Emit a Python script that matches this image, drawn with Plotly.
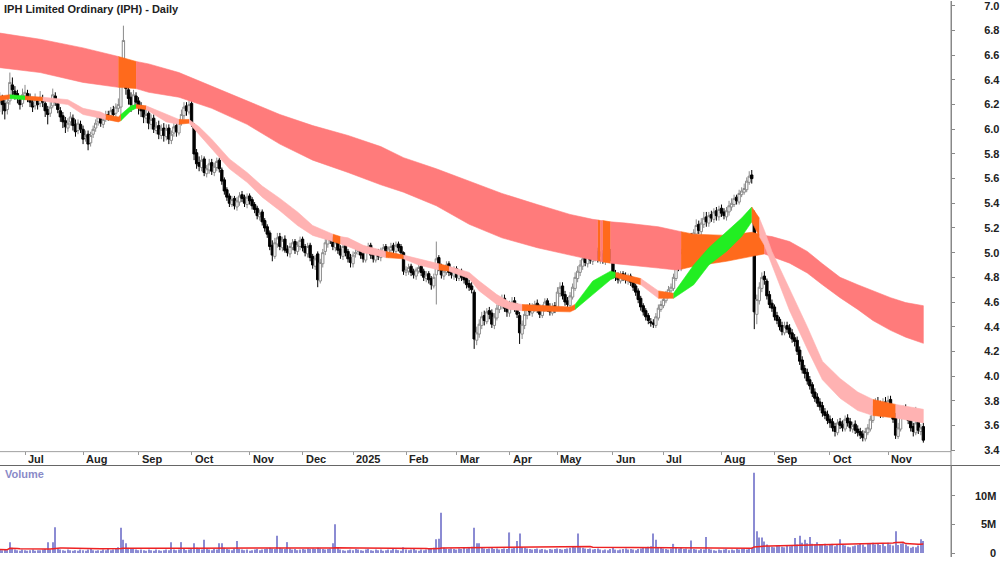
import numpy as np
import pandas as pd
import plotly.graph_objects as go

# ---------------- data ----------------
holidays = ["2024-12-25", "2024-12-26", "2025-01-01", "2025-01-27",
            "2025-04-18", "2025-04-21", "2025-04-25", "2025-06-09"]
first_day, last_day = "2024-06-17", "2025-11-21"

close = [6.25, 6.20, 6.15, 6.22, 6.38, 6.32, 6.28, 6.25, 6.20, 6.28,
         6.30, 6.26, 6.22, 6.18, 6.24, 6.20, 6.26, 6.22, 6.15, 6.12,
         6.18, 6.28, 6.22, 6.16, 6.10, 6.06, 6.02, 6.05, 6.10, 6.03,
         5.98, 6.05, 6.00, 5.92, 5.95, 5.88, 5.95, 6.00, 6.05, 6.10,
         6.05, 6.08, 6.12, 6.10, 6.15, 6.12, 6.18, 6.20, 6.48, 6.72,
         6.33, 6.25, 6.20, 6.28, 6.22, 6.18, 6.15, 6.10, 6.12, 6.05,
         6.08, 6.00, 6.02, 5.96, 6.00, 5.95, 6.00, 5.92, 5.96, 6.02,
         5.98, 6.05, 6.12, 6.18, 6.15, 6.20, 6.05, 5.80, 5.72, 5.70,
         5.75, 5.65, 5.68, 5.72, 5.66, 5.70, 5.74, 5.68, 5.58, 5.50,
         5.45, 5.40, 5.43, 5.38, 5.42, 5.46, 5.44, 5.40, 5.45, 5.42,
         5.38, 5.35, 5.30, 5.32, 5.25, 5.20, 5.15, 5.05, 4.98, 5.08,
         5.12, 5.05, 5.10, 5.02, 5.00, 5.05, 5.08, 5.02, 5.06, 5.10,
         5.04, 5.00, 5.05, 4.96, 4.90, 4.95, 4.78, 4.92, 5.00, 5.08,
         5.12, 5.10, 5.05, 5.08, 5.02, 4.98, 5.05, 5.00, 4.95, 4.92,
         4.98, 5.00, 5.03, 4.98, 4.95, 5.02, 5.05, 4.98, 4.95, 5.00,
         4.97, 5.02, 5.04, 5.00, 5.03, 5.05, 5.02, 5.06, 5.04, 5.00,
         4.85, 4.86, 4.88, 4.84, 4.82, 4.86, 4.88, 4.84, 4.80, 4.82,
         4.78, 4.74, 4.80, 4.95, 4.88, 4.82, 4.85, 4.90, 4.84, 4.82,
         4.86, 4.80, 4.84, 4.80, 4.78, 4.74, 4.72, 4.70, 4.30, 4.35,
         4.42, 4.48, 4.45, 4.52, 4.50, 4.42, 4.48, 4.55, 4.58, 4.62,
         4.55, 4.52, 4.58, 4.60, 4.55, 4.50, 4.35, 4.42, 4.50, 4.55,
         4.52, 4.56, 4.58, 4.54, 4.50, 4.55, 4.60, 4.55, 4.52, 4.56,
         4.54, 4.68, 4.72, 4.65, 4.60, 4.58, 4.65, 4.72, 4.80, 4.85,
         4.90, 4.95, 4.92, 4.98, 4.94, 4.97, 5.00, 4.95, 4.98, 4.94,
         4.97, 5.00, 4.96, 4.82, 4.80, 4.78, 4.82, 4.80, 4.78, 4.80,
         4.76, 4.72, 4.68, 4.62, 4.56, 4.52, 4.48, 4.45, 4.43, 4.42,
         4.48, 4.55, 4.58, 4.62, 4.66, 4.70, 4.72, 4.80, 4.92, 4.88,
         5.00, 5.08, 5.05, 5.12, 5.10, 5.16, 5.22, 5.18, 5.24, 5.28,
         5.25, 5.30, 5.28, 5.33, 5.30, 5.35, 5.32, 5.30, 5.34, 5.38,
         5.40, 5.44, 5.42, 5.48, 5.50, 5.52, 5.58, 5.62, 5.60, 4.52,
         4.62, 4.72, 4.80, 4.78, 4.65, 4.58, 4.55, 4.48, 4.45, 4.40,
         4.36, 4.40, 4.38, 4.34, 4.30, 4.28, 4.20, 4.12, 4.05, 4.02,
         3.96, 3.92, 3.86, 3.82, 3.78, 3.75, 3.70, 3.68, 3.64, 3.62,
         3.58, 3.55, 3.62, 3.60, 3.58, 3.65, 3.62, 3.58, 3.60, 3.56,
         3.54, 3.52, 3.50, 3.55, 3.58, 3.65, 3.72, 3.78, 3.75, 3.70,
         3.78, 3.74, 3.80, 3.72, 3.65, 3.52, 3.58, 3.68, 3.72, 3.70,
         3.64, 3.58, 3.55, 3.62, 3.56, 3.58, 3.48]

open_ = [6.22, 6.24, 6.21, 6.16, 6.23, 6.36, 6.31, 6.29, 6.24, 6.21,
         6.27, 6.29, 6.25, 6.22, 6.19, 6.23, 6.21, 6.25, 6.21, 6.16,
         6.13, 6.19, 6.27, 6.21, 6.15, 6.11, 6.07, 6.01, 6.06, 6.09,
         6.04, 5.99, 6.04, 6.00, 5.93, 5.96, 5.89, 5.96, 6.01, 6.06,
         6.09, 6.04, 6.09, 6.12, 6.11, 6.16, 6.13, 6.17, 6.18, 6.52,
         6.50, 6.32, 6.26, 6.19, 6.27, 6.23, 6.19, 6.16, 6.09, 6.13,
         6.04, 6.09, 5.99, 6.03, 5.95, 6.01, 5.94, 6.01, 5.91, 5.97,
         6.03, 5.97, 6.06, 6.11, 6.19, 6.14, 6.21, 6.03, 5.81, 5.73,
         5.69, 5.76, 5.64, 5.67, 5.73, 5.65, 5.69, 5.75, 5.67, 5.59,
         5.51, 5.46, 5.39, 5.44, 5.37, 5.41, 5.47, 5.45, 5.39, 5.46,
         5.43, 5.39, 5.36, 5.29, 5.33, 5.26, 5.21, 5.16, 5.06, 4.97,
         5.07, 5.13, 5.04, 5.11, 5.03, 4.99, 5.04, 5.09, 5.01, 5.05,
         5.11, 5.05, 4.99, 5.06, 4.97, 4.89, 4.99, 4.77, 4.91, 5.01,
         5.07, 5.13, 5.11, 5.04, 5.09, 5.03, 4.97, 5.06, 5.01, 4.96,
         4.91, 4.99, 5.01, 5.04, 4.99, 4.94, 5.03, 5.06, 4.99, 4.94,
         5.01, 4.96, 5.01, 5.05, 4.99, 5.02, 5.06, 5.01, 5.07, 5.05,
         5.00, 4.84, 4.85, 4.89, 4.85, 4.81, 4.85, 4.89, 4.85, 4.79,
         4.83, 4.79, 4.73, 4.82, 4.96, 4.89, 4.81, 4.84, 4.91, 4.85,
         4.81, 4.87, 4.79, 4.85, 4.81, 4.79, 4.75, 4.73, 4.68, 4.29,
         4.34, 4.41, 4.49, 4.44, 4.53, 4.51, 4.41, 4.47, 4.54, 4.57,
         4.63, 4.56, 4.51, 4.57, 4.61, 4.56, 4.49, 4.34, 4.41, 4.49,
         4.56, 4.51, 4.55, 4.59, 4.55, 4.49, 4.54, 4.61, 4.56, 4.51,
         4.57, 4.55, 4.67, 4.73, 4.66, 4.61, 4.57, 4.64, 4.71, 4.79,
         4.84, 4.89, 4.96, 4.91, 4.99, 4.93, 4.96, 5.01, 4.94, 4.99,
         4.93, 4.96, 5.01, 4.96, 4.83, 4.81, 4.77, 4.83, 4.81, 4.77,
         4.81, 4.77, 4.73, 4.69, 4.63, 4.57, 4.53, 4.49, 4.44, 4.43,
         4.41, 4.47, 4.54, 4.57, 4.61, 4.65, 4.69, 4.71, 4.79, 4.93,
         4.87, 4.99, 5.09, 5.04, 5.13, 5.09, 5.15, 5.23, 5.17, 5.23,
         5.29, 5.24, 5.31, 5.27, 5.34, 5.29, 5.36, 5.33, 5.29, 5.33,
         5.37, 5.39, 5.45, 5.41, 5.47, 5.49, 5.51, 5.57, 5.63, 5.32,
         4.50, 4.61, 4.71, 4.81, 4.77, 4.66, 4.59, 4.56, 4.49, 4.46,
         4.41, 4.35, 4.41, 4.39, 4.35, 4.31, 4.29, 4.21, 4.13, 4.06,
         4.03, 3.97, 3.93, 3.87, 3.83, 3.79, 3.76, 3.71, 3.69, 3.65,
         3.63, 3.59, 3.54, 3.63, 3.61, 3.57, 3.66, 3.63, 3.57, 3.61,
         3.57, 3.55, 3.53, 3.49, 3.54, 3.57, 3.64, 3.71, 3.79, 3.76,
         3.69, 3.79, 3.73, 3.81, 3.73, 3.66, 3.51, 3.57, 3.69, 3.73,
         3.71, 3.65, 3.59, 3.54, 3.63, 3.55, 3.59]

high = [6.30, 6.28, 6.24, 6.26, 6.46, 6.42, 6.35, 6.32, 6.27, 6.33,
        6.36, 6.32, 6.29, 6.25, 6.29, 6.26, 6.31, 6.28, 6.24, 6.19,
        6.22, 6.33, 6.30, 6.24, 6.18, 6.14, 6.10, 6.09, 6.14, 6.12,
        6.08, 6.08, 6.07, 6.03, 5.99, 5.99, 5.98, 6.03, 6.08, 6.13,
        6.12, 6.11, 6.15, 6.15, 6.18, 6.19, 6.21, 6.25, 6.58, 6.84,
        6.56, 6.36, 6.30, 6.32, 6.30, 6.26, 6.22, 6.19, 6.16, 6.16,
        6.12, 6.12, 6.06, 6.07, 6.04, 6.05, 6.04, 6.04, 5.99, 6.06,
        6.06, 6.08, 6.16, 6.22, 6.22, 6.24, 6.23, 6.05, 5.84, 5.78,
        5.79, 5.78, 5.71, 5.76, 5.76, 5.73, 5.77, 5.77, 5.69, 5.61,
        5.53, 5.48, 5.46, 5.46, 5.45, 5.49, 5.50, 5.47, 5.48, 5.48,
        5.45, 5.41, 5.38, 5.35, 5.35, 5.28, 5.23, 5.18, 5.10, 5.12,
        5.16, 5.16, 5.13, 5.14, 5.06, 5.08, 5.11, 5.11, 5.09, 5.13,
        5.13, 5.07, 5.08, 5.08, 4.99, 4.98, 5.01, 4.95, 5.03, 5.11,
        5.15, 5.15, 5.13, 5.11, 5.11, 5.06, 5.08, 5.08, 5.03, 4.99,
        5.01, 5.03, 5.06, 5.06, 5.01, 5.04, 5.08, 5.08, 5.01, 5.03,
        5.03, 5.04, 5.07, 5.07, 5.05, 5.08, 5.08, 5.09, 5.09, 5.07,
        5.01, 4.89, 4.91, 4.91, 4.87, 4.88, 4.91, 4.91, 4.87, 4.85,
        4.85, 4.81, 4.83, 5.09, 4.98, 4.91, 4.88, 4.93, 4.93, 4.88,
        4.89, 4.89, 4.86, 4.87, 4.84, 4.82, 4.78, 4.76, 4.70, 4.40,
        4.46, 4.52, 4.53, 4.55, 4.56, 4.54, 4.51, 4.58, 4.61, 4.66,
        4.66, 4.59, 4.61, 4.64, 4.64, 4.59, 4.52, 4.45, 4.53, 4.58,
        4.59, 4.59, 4.61, 4.62, 4.58, 4.58, 4.63, 4.63, 4.59, 4.59,
        4.60, 4.72, 4.76, 4.76, 4.69, 4.64, 4.68, 4.75, 4.84, 4.89,
        4.94, 4.99, 4.99, 5.02, 5.02, 5.00, 5.04, 5.04, 5.01, 5.02,
        5.00, 5.03, 5.03, 4.98, 4.86, 4.84, 4.85, 4.85, 4.84, 4.83,
        4.83, 4.79, 4.75, 4.71, 4.65, 4.59, 4.55, 4.51, 4.47, 4.46,
        4.51, 4.58, 4.61, 4.65, 4.69, 4.73, 4.75, 4.83, 4.96, 4.97,
        5.03, 5.12, 5.13, 5.15, 5.16, 5.19, 5.27, 5.26, 5.28, 5.33,
        5.33, 5.33, 5.34, 5.36, 5.37, 5.38, 5.39, 5.36, 5.37, 5.42,
        5.44, 5.47, 5.47, 5.51, 5.53, 5.56, 5.61, 5.66, 5.67, 5.34,
        4.66, 4.76, 4.84, 4.85, 4.79, 4.69, 4.62, 4.58, 4.52, 4.48,
        4.44, 4.44, 4.44, 4.42, 4.38, 4.34, 4.32, 4.24, 4.16, 4.09,
        4.06, 4.00, 3.95, 3.90, 3.86, 3.82, 3.79, 3.74, 3.72, 3.68,
        3.66, 3.62, 3.65, 3.66, 3.64, 3.68, 3.69, 3.66, 3.63, 3.64,
        3.60, 3.58, 3.56, 3.58, 3.61, 3.68, 3.76, 3.82, 3.83, 3.80,
        3.82, 3.83, 3.84, 3.84, 3.76, 3.70, 3.62, 3.71, 3.76, 3.77,
        3.74, 3.68, 3.62, 3.75, 3.66, 3.61, 3.62]

low = [6.14, 6.12, 6.08, 6.12, 6.20, 6.27, 6.24, 6.21, 6.16, 6.18,
       6.24, 6.22, 6.18, 6.14, 6.16, 6.16, 6.18, 6.18, 6.10, 6.04,
       6.10, 6.17, 6.19, 6.13, 6.06, 6.01, 5.97, 5.98, 6.03, 5.99,
       5.94, 5.96, 5.97, 5.88, 5.90, 5.83, 5.86, 5.93, 5.98, 6.03,
       6.02, 6.01, 6.06, 6.07, 6.09, 6.09, 6.10, 6.14, 6.10, 6.48,
       6.28, 6.20, 6.14, 6.16, 6.18, 6.12, 6.10, 6.05, 6.05, 6.00,
       6.00, 5.97, 5.96, 5.92, 5.92, 5.90, 5.91, 5.88, 5.88, 5.94,
       5.94, 5.95, 6.03, 6.08, 6.11, 6.12, 6.02, 5.75, 5.68, 5.66,
       5.66, 5.62, 5.61, 5.64, 5.63, 5.62, 5.66, 5.65, 5.55, 5.47,
       5.42, 5.37, 5.37, 5.35, 5.34, 5.38, 5.41, 5.37, 5.36, 5.39,
       5.35, 5.32, 5.27, 5.26, 5.22, 5.17, 5.12, 5.02, 4.93, 4.95,
       5.04, 5.02, 5.01, 5.00, 4.97, 4.96, 5.02, 4.99, 4.98, 5.02,
       5.01, 4.97, 4.96, 4.93, 4.87, 4.86, 4.72, 4.75, 4.88, 4.98,
       5.04, 5.07, 5.02, 5.01, 4.99, 4.95, 4.94, 4.97, 4.92, 4.88,
       4.88, 4.96, 4.98, 4.95, 4.92, 4.92, 5.00, 4.95, 4.92, 4.92,
       4.94, 4.93, 4.98, 4.97, 4.96, 5.00, 4.99, 4.98, 5.01, 4.97,
       4.82, 4.81, 4.82, 4.81, 4.79, 4.78, 4.83, 4.81, 4.77, 4.76,
       4.75, 4.70, 4.71, 4.58, 4.85, 4.79, 4.78, 4.82, 4.81, 4.79,
       4.78, 4.77, 4.77, 4.77, 4.75, 4.71, 4.69, 4.67, 4.22, 4.25,
       4.31, 4.38, 4.41, 4.42, 4.46, 4.39, 4.38, 4.45, 4.51, 4.54,
       4.52, 4.48, 4.48, 4.54, 4.52, 4.47, 4.26, 4.30, 4.38, 4.46,
       4.49, 4.48, 4.52, 4.51, 4.47, 4.47, 4.52, 4.52, 4.49, 4.49,
       4.51, 4.53, 4.64, 4.62, 4.57, 4.55, 4.55, 4.62, 4.69, 4.76,
       4.81, 4.86, 4.89, 4.88, 4.91, 4.90, 4.93, 4.92, 4.91, 4.91,
       4.90, 4.93, 4.93, 4.79, 4.77, 4.75, 4.75, 4.77, 4.75, 4.74,
       4.73, 4.69, 4.65, 4.59, 4.53, 4.49, 4.45, 4.42, 4.40, 4.39,
       4.39, 4.45, 4.52, 4.55, 4.59, 4.63, 4.67, 4.69, 4.77, 4.85,
       4.85, 4.96, 5.02, 5.01, 5.07, 5.06, 5.12, 5.15, 5.14, 5.20,
       5.21, 5.21, 5.25, 5.24, 5.26, 5.26, 5.29, 5.27, 5.26, 5.30,
       5.34, 5.37, 5.39, 5.39, 5.45, 5.47, 5.49, 5.55, 5.56, 4.38,
       4.42, 4.58, 4.68, 4.74, 4.62, 4.55, 4.52, 4.45, 4.42, 4.37,
       4.33, 4.33, 4.35, 4.31, 4.27, 4.24, 4.17, 4.09, 4.02, 3.98,
       3.93, 3.89, 3.83, 3.79, 3.75, 3.72, 3.67, 3.65, 3.61, 3.58,
       3.55, 3.51, 3.52, 3.57, 3.55, 3.55, 3.59, 3.55, 3.54, 3.53,
       3.51, 3.49, 3.47, 3.47, 3.52, 3.55, 3.62, 3.68, 3.72, 3.66,
       3.66, 3.71, 3.70, 3.69, 3.62, 3.49, 3.49, 3.55, 3.66, 3.66,
       3.61, 3.55, 3.51, 3.52, 3.53, 3.52, 3.46]

volume_m = [0.6, 0.5, 0.7, 0.5, 1.9, 0.9, 0.6, 0.5, 0.4, 0.6,
            0.5, 0.4, 0.5, 0.6, 0.4, 0.5, 0.5, 0.6, 0.7, 1.9,
            0.6, 1.9, 4.5, 0.8, 0.6, 0.5, 0.4, 0.6, 0.5, 0.4,
            0.5, 0.4, 0.6, 0.5, 0.4, 0.6, 0.7, 0.5, 0.4, 0.5,
            0.4, 0.6, 0.5, 0.7, 0.5, 0.6, 0.8, 1.0, 4.4, 2.3,
            1.7, 0.9, 0.8, 0.7, 0.6, 0.5, 0.6, 0.5, 0.4, 0.6,
            0.5, 0.4, 0.6, 0.5, 0.4, 0.5, 0.6, 0.5, 1.9, 0.6,
            0.5, 0.6, 1.9, 0.7, 0.5, 0.6, 0.8, 1.7, 0.9, 0.7,
            0.6, 2.3, 0.8, 0.6, 0.5, 0.7, 0.6, 1.7, 1.7, 0.9,
            0.7, 0.6, 0.5, 0.8, 2.1, 0.7, 0.6, 0.5, 0.6, 0.4,
            0.5, 0.6, 0.7, 0.5, 0.6, 0.7, 0.8, 0.9, 0.8, 0.7,
            3.0, 0.9, 0.8, 0.7, 1.9, 0.8, 0.6, 0.7, 0.5, 0.6,
            0.7, 0.6, 0.8, 0.7, 0.8, 0.7, 0.9, 0.8, 0.7, 0.6,
            0.7, 0.8, 1.7, 5.0, 0.9, 0.6, 0.5, 0.4, 0.5, 0.6,
            0.5, 0.7, 0.6, 0.5, 0.4, 0.6, 0.7, 0.5, 0.4, 0.6,
            0.5, 0.6, 0.4, 0.5, 0.6, 0.5, 0.7, 0.6, 0.5, 0.4,
            1.0, 0.6, 0.5, 0.6, 0.7, 0.5, 0.4, 0.6, 0.5, 0.6,
            0.7, 0.8, 0.9, 2.4, 2.5, 7.0, 0.9, 0.8, 0.7, 0.8,
            0.7, 0.6, 0.8, 0.7, 0.9, 0.8, 1.0, 1.1, 4.4, 1.7,
            1.7, 0.9, 0.8, 0.7, 0.8, 0.9, 0.7, 0.8, 0.6, 0.7,
            0.8, 0.7, 3.6, 0.8, 0.9, 2.1, 3.4, 1.0, 0.9, 0.8,
            0.7, 0.6, 0.7, 0.8, 0.6, 0.7, 0.6, 0.5, 0.7, 0.6,
            0.7, 0.8, 0.7, 0.6, 0.7, 0.8, 0.9, 1.1, 1.0, 3.4,
            1.0, 0.9, 0.8, 0.7, 0.8, 0.6, 0.7, 0.8, 0.6, 0.5,
            0.6, 0.5, 0.7, 0.9, 0.6, 0.5, 0.6, 0.7, 0.8, 0.6,
            0.7, 0.6, 0.5, 0.7, 0.8, 0.9, 1.0, 1.1, 1.2, 3.4,
            2.3, 1.0, 0.9, 0.8, 0.7, 0.6, 0.8, 1.6, 0.9, 0.8,
            0.9, 0.7, 0.8, 0.6, 2.2, 0.7, 0.6, 0.5, 0.7, 0.6,
            2.8, 0.7, 0.6, 0.5, 0.4, 0.6, 0.5, 0.6, 0.7, 0.5,
            0.6, 0.5, 0.7, 0.6, 0.7, 0.8, 0.6, 0.7, 0.9, 14.0,
            3.8, 2.7, 2.7, 2.0, 1.5, 1.2, 1.1, 1.0, 1.3, 1.2,
            1.1, 1.0, 1.4, 1.2, 1.3, 2.6, 1.5, 3.0, 1.8, 2.3,
            1.7, 2.8, 1.6, 1.5, 1.9, 1.4, 1.5, 1.6, 1.3, 1.4,
            1.6, 1.2, 1.5, 2.4, 1.4, 1.3, 1.1, 1.0, 1.2, 1.3,
            1.4, 1.6, 1.5, 1.1, 1.7, 1.6, 1.8, 1.5, 1.7, 1.4,
            1.6, 1.2, 1.8, 1.5, 1.3, 3.8, 1.4, 1.6, 1.7, 1.5,
            1.2, 0.9, 1.1, 1.0, 1.3, 2.4, 2.1]

# long-term moving-average band (upper / lower edge) and its state
lb_dates = ["2024-06-17", "2024-07-09", "2024-08-01", "2024-08-21", "2024-08-30",
            "2024-09-06", "2024-09-24", "2024-10-11", "2024-10-31", "2024-11-19",
            "2024-12-06", "2024-12-30", "2025-01-17", "2025-01-31", "2025-02-19",
            "2025-03-10", "2025-03-27", "2025-04-16", "2025-05-08", "2025-05-21",
            "2025-05-23", "2025-05-26", "2025-05-27", "2025-05-30", "2025-06-10",
            "2025-06-27", "2025-07-08", "2025-07-10", "2025-07-17", "2025-08-05",
            "2025-08-19", "2025-08-26", "2025-08-29", "2025-09-09", "2025-09-18",
            "2025-09-26", "2025-10-07", "2025-10-16", "2025-10-24", "2025-11-04",
            "2025-11-12", "2025-11-21"]
lb_hi = [6.78, 6.73, 6.66, 6.59, 6.55, 6.53, 6.46, 6.35, 6.23, 6.12,
         6.03, 5.95, 5.86, 5.77, 5.68, 5.58, 5.48, 5.39, 5.31, 5.27,
         5.265, 5.26, 5.26, 5.25, 5.24, 5.21, 5.18, 5.17, 5.15, 5.14,
         5.165, 5.14, 5.13, 5.09, 5.01, 4.91, 4.80, 4.74, 4.69, 4.635,
         4.595, 4.57]
lb_lo = [6.50, 6.46, 6.38, 6.34, 6.33, 6.30, 6.26, 6.17, 6.04, 5.88,
         5.75, 5.65, 5.55, 5.49, 5.38, 5.23, 5.12, 5.04, 4.98, 4.94,
         4.935, 4.93, 4.925, 4.915, 4.90, 4.875, 4.86, 4.865, 4.89, 4.93,
         4.97, 4.99, 4.97, 4.915, 4.835, 4.74, 4.635, 4.54, 4.45, 4.37,
         4.315, 4.265]
lb_state = ["r", "r", "r", "o", "r", "r", "r", "r", "r", "r",
            "r", "r", "r", "r", "r", "r", "r", "r", "r", "r",
            "o", "r", "o", "r", "r", "r", "r", "o", "o", "o",
            "o", "r", "r", "r", "r", "r", "r", "r", "r", "r",
            "r", "r"]

# short-term moving-average band and its state
sb_dates = ["2024-06-17", "2024-06-21", "2024-07-01", "2024-07-10", "2024-07-24",
            "2024-08-01", "2024-08-12", "2024-08-14", "2024-08-21", "2024-08-22",
            "2024-08-28", "2024-08-30", "2024-09-05", "2024-09-17", "2024-09-24",
            "2024-09-30", "2024-10-04", "2024-10-11", "2024-10-22", "2024-10-31",
            "2024-11-08", "2024-11-19", "2024-11-28", "2024-12-06", "2024-12-18",
            "2024-12-23", "2024-12-30", "2025-01-08", "2025-01-21", "2025-01-31",
            "2025-02-10", "2025-02-20", "2025-02-26", "2025-03-10", "2025-03-14",
            "2025-03-25", "2025-04-01", "2025-04-08", "2025-05-08", "2025-05-12",
            "2025-05-21", "2025-05-30", "2025-06-03", "2025-06-18", "2025-06-27",
            "2025-07-07", "2025-07-17", "2025-07-25", "2025-08-05", "2025-08-13",
            "2025-08-19", "2025-08-22", "2025-08-26", "2025-08-29", "2025-09-09",
            "2025-09-18", "2025-09-26", "2025-10-07", "2025-10-16", "2025-10-24",
            "2025-11-06", "2025-11-21"]
sb_hi = [6.27, 6.28, 6.27, 6.26, 6.24, 6.17, 6.14, 6.12, 6.10, 6.12,
         6.19, 6.20, 6.19, 6.12, 6.08, 6.08, 6.02, 5.92, 5.76, 5.65,
         5.54, 5.44, 5.33, 5.22, 5.15, 5.13, 5.12, 5.06, 5.01, 4.98,
         4.95, 4.91, 4.89, 4.84, 4.77, 4.66, 4.60, 4.58, 4.56, 4.58,
         4.77, 4.85, 4.84, 4.79, 4.69, 4.67, 4.90, 5.04, 5.17, 5.28,
         5.37, 5.28, 5.18, 5.01, 4.71, 4.40, 4.12, 3.98, 3.87, 3.81,
         3.77, 3.73]
sb_lo = [6.23, 6.25, 6.24, 6.23, 6.20, 6.12, 6.09, 6.08, 6.06, 6.07,
         6.15, 6.17, 6.16, 6.06, 6.04, 6.05, 5.96, 5.84, 5.68, 5.57,
         5.45, 5.34, 5.22, 5.14, 5.09, 5.07, 5.05, 5.00, 4.96, 4.95,
         4.90, 4.86, 4.85, 4.79, 4.69, 4.58, 4.54, 4.53, 4.52, 4.54,
         4.66, 4.78, 4.80, 4.74, 4.63, 4.63, 4.74, 4.90, 5.01, 5.13,
         5.25, 5.13, 5.06, 4.90, 4.53, 4.22, 3.97, 3.82, 3.72, 3.68,
         3.66, 3.62]
sb_state = ["o", "g", "o", "p", "p", "p", "p", "o", "o", "g",
            "g", "o", "p", "p", "o", "p", "p", "p", "p", "p",
            "p", "p", "p", "p", "o", "p", "p", "p", "o", "p",
            "p", "o", "p", "p", "p", "p", "p", "o", "o", "g",
            "g", "g", "o", "p", "o", "g", "g", "g", "g", "g",
            "o", "p", "p", "p", "p", "p", "p", "p", "p", "o",
            "p", "p"]

month_labels = ["Jul", "Aug", "Sep", "Oct", "Nov", "Dec", "2025", "Feb", "Mar",
                "Apr", "May", "Jun", "Jul", "Aug", "Sep", "Oct", "Nov"]
price_ticks = [3.4, 3.6, 3.8, 4.0, 4.2, 4.4, 4.6, 4.8, 5.0, 5.2, 5.4, 5.6,
               5.8, 6.0, 6.2, 6.4, 6.6, 6.8, 7.0]
volume_ticks = [0, 5, 10]
volume_tick_labels = ["0", "5M", "10M"]

# ---------------- build ----------------
dates = pd.bdate_range(first_day, last_day)
dates = dates[~dates.isin(pd.to_datetime(holidays))]
n = len(dates)
xi = np.arange(n)


def to_x(ds):
    return dates.searchsorted(pd.to_datetime(ds))


W, H = 1000, 562
PLOT_R = 951 / W
FONT = "Liberation Sans Narrow, Arial Narrow, Liberation Sans, Arial"
COL = {"r": "#ff7b7b", "o": "#ff6a1c", "p": "#ffb2b2", "g": "#22ee22"}

fig = go.Figure()


def add_band(dlist, hi, lo, state):
    xs = to_x(dlist)
    i = 0
    m = len(xs)
    while i < m - 1:
        j = i
        while j + 1 < m - 1 and state[j + 1] == state[i]:
            j += 1
        seg = list(range(i, j + 2))
        px = [xs[k] for k in seg] + [xs[k] for k in reversed(seg)]
        py = [hi[k] for k in seg] + [lo[k] for k in reversed(seg)]
        c = COL[state[i]]
        fig.add_trace(go.Scatter(x=px, y=py, fill="toself", fillcolor=c, mode="lines",
                                 line=dict(width=0.6, color=c), hoverinfo="skip",
                                 showlegend=False, xaxis="x", yaxis="y"))
        i = j + 1


add_band(lb_dates, lb_hi, lb_lo, lb_state)
add_band(sb_dates, sb_hi, sb_lo, sb_state)

fig.add_trace(go.Candlestick(
    x=xi, open=open_, high=high, low=low, close=close,
    increasing=dict(line=dict(color="#8a8a8a", width=1), fillcolor="#ffffff"),
    decreasing=dict(line=dict(color="#000000", width=1), fillcolor="#000000"),
    whiskerwidth=0, showlegend=False, hoverinfo="skip", xaxis="x", yaxis="y"))

fig.add_trace(go.Bar(x=xi, y=volume_m, width=0.45, marker=dict(color="#8b8bd3", line=dict(width=0)),
                     showlegend=False, hoverinfo="skip", xaxis="x2", yaxis="y2"))
vol_avg = pd.Series(volume_m).rolling(60, min_periods=1).mean()
fig.add_trace(go.Scatter(x=xi, y=vol_avg, mode="lines", line=dict(color="#ee2222", width=1.5),
                         showlegend=False, hoverinfo="skip", xaxis="x2", yaxis="y2"))

# month starts
ser = pd.Series(xi, index=dates)
ms = ser.groupby(dates.to_period("M")).first().values[1:]

xr = [0.09, 376.96]
price_dom = [1 - 455 / H, 1]
vol_dom = [0, 1 - 470 / H]
tickfont = dict(family=FONT, size=11, color="#222222", weight="bold")

fig.update_layout(
    width=W, height=H, margin=dict(l=0, r=0, t=0, b=0),
    paper_bgcolor="white", plot_bgcolor="white", showlegend=False,
    boxgap=0.08, boxgroupgap=0,
    xaxis=dict(domain=[0, PLOT_R], range=xr, anchor="y", tickvals=list(ms),
               showticklabels=False, ticks="outside", ticklen=3, tickcolor="#999999",
               showline=False, showgrid=False, zeroline=False,
               rangeslider=dict(visible=False)),
    yaxis=dict(domain=price_dom, range=[3.391, 7.040], side="right", anchor="x",
               tickvals=price_ticks, ticktext=[f"{v:.1f}" for v in price_ticks],
               ticks="outside", ticklen=3, tickcolor="#888888",
               showline=True, linecolor="#888888", linewidth=1,
               showgrid=False, zeroline=False, tickfont=tickfont,
               ticklabelstandoff=27, ticklabeloverflow="allow"),
    xaxis2=dict(domain=[0, PLOT_R], range=xr, anchor="y2", showticklabels=False,
                ticks="", showline=False, showgrid=False, zeroline=False),
    yaxis2=dict(domain=vol_dom, range=[-0.69, 15.17], side="right", anchor="x2",
                tickvals=volume_ticks, showticklabels=False, ticks="outside", ticklen=3,
                tickcolor="#888888", showline=True, linecolor="#888888", linewidth=1,
                showgrid=False, zeroline=False),
)

shapes = [
    dict(type="line", xref="paper", yref="paper", x0=0, x1=PLOT_R,
         y0=1 - 455.5 / H, y1=1 - 455.5 / H, line=dict(color="#a0a0a0", width=1)),
    dict(type="line", xref="paper", yref="paper", x0=0, x1=1,
         y0=1 - 469.5 / H, y1=1 - 469.5 / H, line=dict(color="#666666", width=1.2)),
    dict(type="line", xref="paper", yref="paper", x0=PLOT_R, x1=PLOT_R,
         y0=0, y1=1, line=dict(color="#888888", width=1)),
]
fig.update_layout(shapes=shapes)

ann = []
for xv, lab in zip(ms, month_labels):
    ann.append(dict(x=xv, xref="x", y=1 - 463 / H, yref="paper", text=lab, showarrow=False,
                    xanchor="left", yanchor="middle", xshift=1, font=tickfont))
for v, lab in zip(volume_ticks, volume_tick_labels):
    ann.append(dict(x=0.998, xref="paper", y=v, yref="y2", text=lab, showarrow=False,
                    xanchor="right", yanchor="middle", font=tickfont))
ann.append(dict(x=2 / W, xref="paper", y=1 - 8 / H, yref="paper",
                text="IPH Limited Ordinary (IPH) - Daily", showarrow=False,
                xanchor="left", yanchor="middle",
                font=dict(family=FONT, size=11, color="#222222", weight="bold")))
ann.append(dict(x=3 / W, xref="paper", y=1 - 478 / H, yref="paper", text="Volume",
                showarrow=False, xanchor="left", yanchor="middle",
                font=dict(family=FONT, size=11, color="#8a8ac8", weight="bold")))
fig.update_layout(annotations=ann)

fig.write_html("out.html")
